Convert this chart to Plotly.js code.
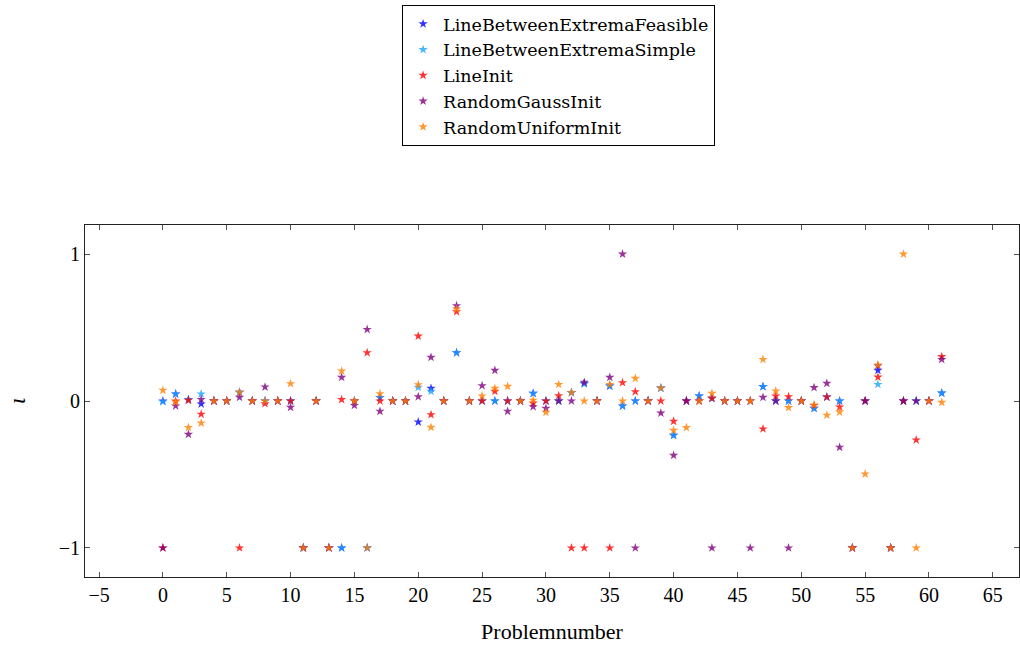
<!DOCTYPE html>
<html>
<head>
<meta charset="utf-8">
<script src="https://cdn.plot.ly/plotly-3.0.1.min.js"></script>
<style>html,body{margin:0;padding:0;background:#fff;}#chart{width:1020px;height:648px;}</style>
</head>
<body>
<div id="chart"></div>
<script>
const problems = [0,1,2,3,4,5,6,7,8,9,10,11,12,13,14,15,16,17,18,19,20,21,22,23,24,25,26,27,28,29,30,31,32,33,34,35,36,37,38,39,40,41,42,43,44,45,46,47,48,49,50,51,52,53,54,55,56,57,58,59,60,61];

const lineBetweenExtremaFeasible = [0,0.048,0.01,-0.02,0,0,0.059,0,0,0,0,-1,0,-1,-1,0,-1,0.023,0,0,-0.143,0.086,0,0.329,0,0,0,0,0,0.052,0,0,0.057,0.118,0,0.102,-0.034,0,0,0.088,-0.234,0,0.034,0.018,0,0,0,0.098,0,0,0,-0.05,0.027,0,-1,0,0.209,-1,0,0,0,0.054];

const lineBetweenExtremaSimple = [-0.005,0.048,0.01,0.048,0,0,0.059,0,0,0,0,-1,0,-1,-1,0,-1,0.023,0,0,0.093,0.066,0,0.329,0,0,0,0,0,0.052,0,0,0.057,0.118,0,0.102,-0.034,0,0,0.088,-0.234,0,0.034,0.018,0,0,0,0.098,0,0,0,-0.05,0.027,0,-1,0,0.113,-1,0,0,0,0.054];

const lineInit = [-1,0,0.005,-0.09,0,0,-1,0,-0.018,0,0,-1,0,-1,0.01,0,0.329,0,0,0,0.442,-0.093,0,0.608,0,0,0.066,0,0,-0.014,0,0.036,-1,-1,0,-1,0.125,0.063,0,0,-0.138,0,0,0.018,0,0,0,-0.19,0.034,0.029,0,-0.03,0.027,-0.041,-1,0,0.163,-1,0,-0.265,0,0.302];

const randomGaussInit = [-1,-0.034,-0.227,0.01,0,0,0.025,0,0.095,0,-0.043,-1,0,-1,0.161,-0.03,0.487,-0.07,0,0,0.029,0.297,0,0.649,0,0.104,0.209,-0.07,0,-0.039,-0.05,0,0,0.127,0,0.161,1,-1,0,-0.082,-0.37,0,0,-1,0,0,-1,0.025,0,-1,0,0.091,0.12,-0.315,-1,0,0.24,-1,0,0,0,0.283];

const randomUniformInit = [0.073,-0.007,-0.18,-0.15,0,0,0.059,0,0,0,0.118,-1,0,-1,0.204,0,-1,0.05,0,0,0.111,-0.179,0,0.626,0,0.034,0.086,0.1,0,0.005,-0.077,0.113,0.057,0,0,0.113,0,0.154,0,0.088,-0.2,-0.181,0,0.052,0,0,0,0.283,0.068,-0.045,0,-0.027,-0.097,-0.075,-1,-0.497,0.245,-1,1,-1,0,-0.009];

const seriesNames = ['LineBetweenExtremaFeasible','LineBetweenExtremaSimple','LineInit','RandomGaussInit','RandomUniformInit'];
const seriesValues = [lineBetweenExtremaFeasible, lineBetweenExtremaSimple, lineInit, randomGaussInit, randomUniformInit];
const seriesColors = ['#0000ff','#1aa3ff','#ff0000','#800080','#ff8000'];

const xTicks = [-5,0,5,10,15,20,25,30,35,40,45,50,55,60,65];
const yTicks = [-1,0,1];

const font = 'Liberation Serif, DejaVu Serif, serif';
const legendFont = 'DejaVu Serif, serif';

const traces = seriesNames.map((name, i) => ({
  type: 'scatter',
  mode: 'markers',
  name: name,
  x: problems,
  y: seriesValues[i],
  marker: {symbol: 'star', size: 7, color: seriesColors[i], opacity: 0.8, line: {width: 0}}
}));

const layout = {
  width: 1020, height: 648,
  margin: {l: 85, r: 1, t: 225, b: 71},
  paper_bgcolor: '#fff', plot_bgcolor: '#fff',
  font: {family: font, color: '#000', size: 20},
  showlegend: true,
  legend: {
    x: 0.3395, y: 1.625, xanchor: 'left', yanchor: 'top',
    bordercolor: '#000', borderwidth: 1, bgcolor: '#fff',
    font: {family: legendFont, size: 17.5, color: '#000'},
    itemwidth: 30, tracegroupgap: 0
  },
  xaxis: {
    range: [-6.1, 67.05],
    tickvals: xTicks,
    ticks: 'inside', ticklen: 5, tickcolor: '#555',
    mirror: 'ticks', showline: true, linecolor: '#222', linewidth: 1,
    showgrid: false, zeroline: false,
    tickfont: {family: font, size: 20},
    title: {text: 'Problemnumber', font: {family: font, size: 22}, standoff: 18}
  },
  yaxis: {
    range: [-1.198, 1.198],
    tickvals: yTicks,
    ticks: 'inside', ticklen: 5, tickcolor: '#555',
    mirror: 'ticks', showline: true, linecolor: '#222', linewidth: 1,
    showgrid: false, zeroline: false,
    tickfont: {family: font, size: 20},
    title: {text: '<i>ι</i>', font: {family: font, size: 24}, standoff: 26}
  }
};

Plotly.newPlot('chart', traces, layout, {displayModeBar: false, staticPlot: true});
</script>
</body>
</html>
